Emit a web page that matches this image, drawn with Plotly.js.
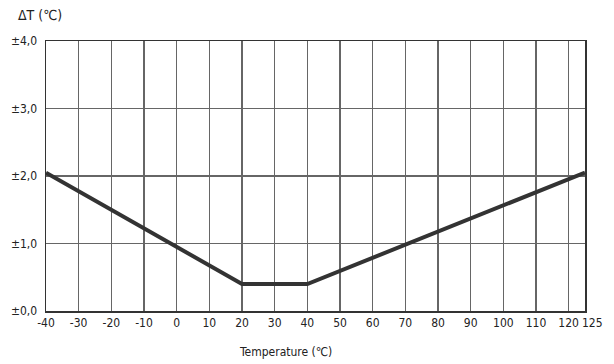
<!DOCTYPE html>
<html>
<head>
<meta charset="utf-8">
<script src="https://cdn.plot.ly/plotly-3.0.1.min.js"></script>
<style>html,body{margin:0;padding:0;background:#fff;}#chart{width:614px;height:364px;}</style>
</head>
<body>
<div id="chart"></div>
<script>
const temperature = [-40, 20, 40, 125];
const deltaT = [2.05, 0.4, 0.4, 2.05];
const xTickVals = [-40, -30, -20, -10, 0, 10, 20, 30, 40, 50, 60, 70, 80, 90, 100, 110, 120];
const xTickText = ['-40', '-30', '-20', '-10', '0', '10', '20', '30', '40', '50', '60', '70', '80', '90', '100', '110', '120'];
const xEndTick = 125;
const xEndText = '125';
const yTickVals = [0, 1, 2, 3, 4];
const yTickText = ['±0,0', '±1,0', '±2,0', '±3,0', '±4,0'];

const fam = '"DejaVu Sans Condensed", "Liberation Sans Narrow", "Liberation Sans", sans-serif';
const font = {family: fam, size: 12, color: '#222'};

Plotly.newPlot('chart', [{
  x: temperature, y: deltaT, mode: 'lines', type: 'scatter',
  line: {color: '#333', width: 4}, hoverinfo: 'skip', cliponaxis: false
}], {
  width: 614, height: 364,
  margin: {l: 46, r: 29, t: 41, b: 53},
  paper_bgcolor: '#fff', plot_bgcolor: '#fff',
  showlegend: false,
  font: font,
  xaxis: {
    range: [-40, 125], tickmode: 'array', tickvals: xTickVals, ticktext: xTickText,
    tickangle: 0,
    showgrid: true, gridcolor: '#666', gridwidth: 1.2, zeroline: false,
    showline: true, mirror: true, linecolor: '#333', linewidth: 1.5,
    ticks: '', tickfont: font
  },
  yaxis: {
    range: [0, 4], tickmode: 'array', tickvals: yTickVals, ticktext: yTickText,
    showgrid: true, gridcolor: '#666', gridwidth: 1.2, zeroline: false,
    showline: true, mirror: true, linecolor: '#333', linewidth: 1.5,
    ticks: '', tickfont: font, ticklabelstandoff: 5
  },
  annotations: [{
    text: 'ΔT (℃)', xref: 'paper', yref: 'paper', x: -0.055, y: 1.0, yshift: 26,
    xanchor: 'left', yanchor: 'middle', showarrow: false,
    font: {family: fam, size: 14, color: '#222'}
  }, {
    text: xEndText, xref: 'x', yref: 'paper', x: xEndTick, y: 0, yshift: -3, xshift: -5,
    xanchor: 'left', yanchor: 'top', showarrow: false, font: font
  }, {
    text: 'Temperature (℃)', xref: 'paper', yref: 'paper', x: 0.445, y: 0, yshift: -32,
    xanchor: 'center', yanchor: 'top', showarrow: false,
    font: {family: fam, size: 12, color: '#222'}
  }]
}, {staticPlot: true, displayModeBar: false});
</script>
</body>
</html>
